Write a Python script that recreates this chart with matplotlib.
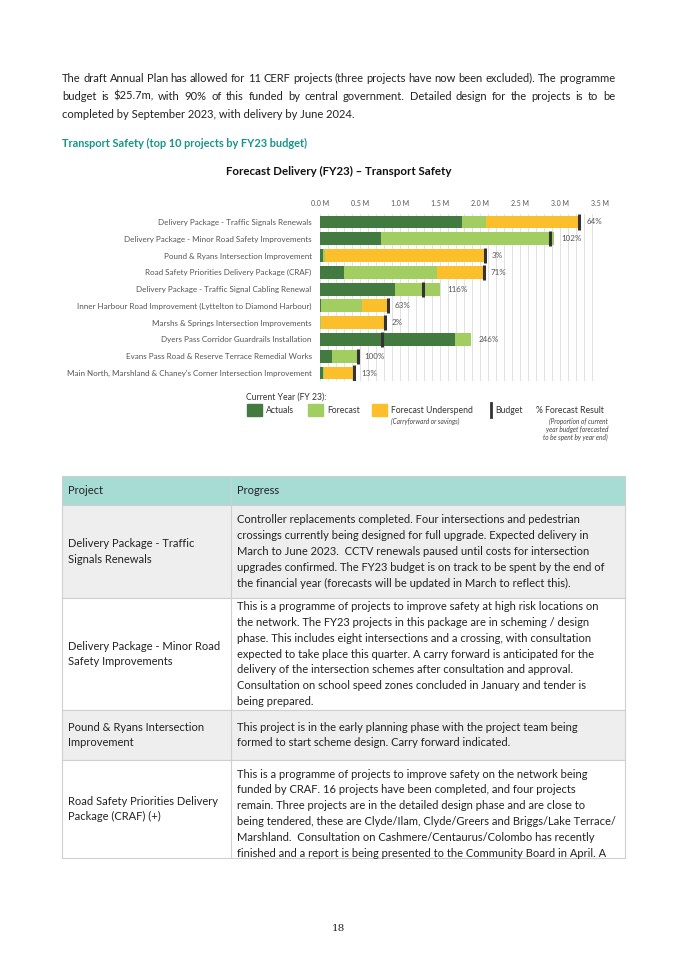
import numpy as np
import matplotlib.pyplot as plt
from matplotlib.patches import Rectangle

W, H = 675, 955
plt.rcParams['font.family'] = ['Lato', 'DejaVu Sans']

# ---- chart data (values in $M) ----
projects = [
    "Delivery Package - Traffic Signals Renewals",
    "Delivery Package - Minor Road Safety Improvements",
    "Pound & Ryans Intersection Improvement",
    "Road Safety Priorities Delivery Package (CRAF)",
    "Delivery Package - Traffic Signal Cabling Renewal",
    "Inner Harbour Road Improvement (Lyttelton to Diamond Harbour)",
    "Marshs & Springs Intersection Improvements",
    "Dyers Pass Corridor Guardrails Installation",
    "Evans Pass Road & Reserve Terrace Remedial Works",
    "Main North, Marshland & Chaney's Corner Intersection Improvement",
]
actuals = [1.77, 0.76, 0.04, 0.30, 0.94, 0.01, 0.00, 1.69, 0.15, 0.04]
forecast = [0.30, 2.17, 0.02, 1.16, 0.56, 0.52, 0.016, 0.20, 0.32, 0.016]
budget = [3.24, 2.87, 2.06, 2.05, 1.29, 0.85, 0.81, 0.77, 0.47, 0.43]
pct_labels = ["64%", "102%", "3%", "71%", "116%", "63%", "2%", "246%", "100%", "13%"]
tick_vals = [0.0, 0.5, 1.0, 1.5, 2.0, 2.5, 3.0, 3.5]
tick_labels = ["0.0 M", "0.5 M", "1.0 M", "1.5 M", "2.0 M", "2.5 M", "3.0 M", "3.5 M"]

# ---- table text ----
table_projects = [
    "Delivery Package - Traffic\nSignals Renewals",
    "Delivery Package - Minor Road\nSafety Improvements",
    "Pound & Ryans Intersection\nImprovement",
    "Road Safety Priorities Delivery\nPackage (CRAF) (+)",
]
table_progress = [
    ["Controller replacements completed. Four intersections and pedestrian",
     "crossings currently being designed for full upgrade. Expected delivery in",
     "March to June 2023.  CCTV renewals paused until costs for intersection",
     "upgrades confirmed. The FY23 budget is on track to be spent by the end of",
     "the financial year (forecasts will be updated in March to reflect this)."],
    ["This is a programme of projects to improve safety at high risk locations on",
     "the network. The FY23 projects in this package are in scheming / design",
     "phase. This includes eight intersections and a crossing, with consultation",
     "expected to take place this quarter. A carry forward is anticipated for the",
     "delivery of the intersection schemes after consultation and approval.",
     "Consultation on school speed zones concluded in January and tender is",
     "being prepared."],
    ["This project is in the early planning phase with the project team being",
     "formed to start scheme design. Carry forward indicated."],
    ["This is a programme of projects to improve safety on the network being",
     "funded by CRAF. 16 projects have been completed, and four projects",
     "remain. Three projects are in the detailed design phase and are close to",
     "being tendered, these are Clyde/Ilam, Clyde/Greers and Briggs/Lake Terrace/",
     "Marshland.  Consultation on Cashmere/Centaurus/Colombo has recently",
     "finished and a report is being presented to the Community Board in April. A"],
]

para_lines = [
    "The draft Annual Plan has allowed for 11 CERF projects (three projects have now been excluded). The programme",
    "budget is $25.7m, with 90% of this funded by central government. Detailed design for the projects is to be",
    "completed by September 2023, with delivery by June 2024.",
]

C_ACT = '#437a3f'
C_FC = '#a2cd60'
C_UND = '#fcbf2c'
C_BUD = '#333333'
TXT = '#222222'

fig = plt.figure(figsize=(W / 100, H / 100), dpi=100)
page = fig.add_axes([0, 0, 1, 1])
page.set_xlim(0, W)
page.set_ylim(H, 0)
page.axis('off')

# ---- paragraph (first two lines justified) ----
renderer = fig.canvas.get_renderer()
def justify(line, x0, x1, y, size):
    words = line.split(' ')
    arts = [page.text(0, y, w, fontsize=size, color=TXT, va='center') for w in words]
    widths = []
    for a in arts:
        bb = a.get_window_extent(renderer)
        widths.append(bb.width)
    gap = (x1 - x0 - sum(widths)) / (len(words) - 1)
    x = x0
    for a, w in zip(arts, widths):
        a.set_x(x)
        x += w + gap

body = 8.05
justify(para_lines[0], 62, 615, 78, body)
justify(para_lines[1], 62, 615, 96, body)
page.text(62, 114, para_lines[2], fontsize=body, color=TXT, va='center')

page.text(62, 143, "Transport Safety (top 10 projects by FY23 budget)", fontsize=7.9,
          color='#17958a', fontweight='bold', va='center')

page.text(339, 171, "Forecast Delivery (FY23) \u2013 Transport Safety", fontsize=8.3,
          color='#111111', fontweight='bold', va='center', ha='center')

# ---- bar chart ----
ax = fig.add_axes([320 / W, 1 - 381.4 / H, 280 / W, 167.8 / H])
n = len(projects)
y = np.arange(n)
act = np.array(actuals)
fc = np.array(forecast)
bud = np.array(budget)
total = act + fc
under = np.clip(bud - total, 0, None)
bh = 0.77
ax.barh(y, act, height=bh, color=C_ACT, zorder=2)
ax.barh(y, fc, left=act, height=bh, color=C_FC, zorder=2)
ax.barh(y, under, left=total, height=bh, color=C_UND, zorder=2)
ax.vlines(bud, y - 0.45, y + 0.45, color=C_BUD, lw=2.2, zorder=3)
for i in range(n):
    xe = max(total[i], bud[i])
    ax.annotate(pct_labels[i], (xe, y[i]), xytext=(5, 0), textcoords='offset points',
                fontsize=5.8, color='#555555', va='center')
ax.set_xlim(0, 3.5)
ax.set_ylim(n - 0.5, -0.5)
ax.set_yticks(y)
ax.set_yticklabels(projects, fontsize=5.8, color='#555555')
ax.xaxis.tick_top()
ax.set_xticks(tick_vals)
ax.set_xticklabels(tick_labels, fontsize=5.0, color='#555555')
ax.set_xticks(np.arange(0, 3.51, 0.1), minor=True)
ax.tick_params(axis='both', which='both', length=0)
ax.tick_params(axis='y', pad=6)
ax.tick_params(axis='x', pad=5)
ax.grid(axis='x', which='both', color='#dddddd', lw=0.6, zorder=0)
for s in ax.spines.values():
    s.set_visible(False)

# ---- legend ----
lg = 6.2
sm = 4.7
page.text(246, 397, "Current Year (FY 23):", fontsize=lg, color='#333333', va='center')
for x0, col, lab in [(247, C_ACT, "Actuals"), (308, C_FC, "Forecast"), (372, C_UND, "Forecast Underspend")]:
    page.add_patch(Rectangle((x0, 404), 15, 12, color=col))
    page.text(x0 + 19, 410, lab, fontsize=lg, color='#333333', va='center')
page.text(391, 421, "(Carryforward or savings)", fontsize=sm, style='italic', color='#444444', va='center')
page.plot([491, 491], [403, 417], color=C_BUD, lw=2.0)
page.text(495, 410, "Budget", fontsize=lg, color='#333333', va='center')
page.text(536, 410, "% Forecast Result", fontsize=lg, color='#333333', va='center')
for k, s in enumerate(["(Proportion of current", "year budget forecasted", "to be spent by year end)"]):
    page.text(608, 421 + 8 * k, s, fontsize=sm, style='italic', color='#444444', va='center', ha='right')

# ---- table ----
tx0, tdiv, tx1 = 62, 231, 625
rows = [476, 505, 598, 710, 760, 858]
fills = ['#a6dcd4', '#eeeeee', '#ffffff', '#eeeeee', '#ffffff']
for r in range(5):
    page.add_patch(Rectangle((tx0, rows[r]), tx1 - tx0, rows[r + 1] - rows[r],
                             facecolor=fills[r], edgecolor='#cfcfcf', lw=0.8))
page.plot([tdiv, tdiv], [rows[0], rows[-1]], color='#cfcfcf', lw=0.8)
ts = 8.0
lh = 15.8
page.text(tx0 + 6, 490, "Project", fontsize=ts, color=TXT, va='center')
page.text(tdiv + 6, 490, "Progress", fontsize=ts, color=TXT, va='center')
for r in range(4):
    top, bot = rows[r + 1], rows[r + 2]
    lines = table_progress[r]
    if r == 3:
        ystart = top + 14
    else:
        ystart = (top + bot) / 2 - lh * (len(lines) - 1) / 2
    for k, s in enumerate(lines):
        page.text(tdiv + 6, ystart + lh * k, s, fontsize=ts, color=TXT, va='center')
    plines = table_projects[r].split('\n')
    yc = (top + bot) / 2 - lh * (len(plines) - 1) / 2
    for k, s in enumerate(plines):
        page.text(tx0 + 6, yc + lh * k, s, fontsize=ts, color=TXT, va='center')

page.text(338, 928, "18", fontsize=7.5, color=TXT, va='center', ha='center', family='DejaVu Serif')

fig.savefig('out.png', dpi=100)
